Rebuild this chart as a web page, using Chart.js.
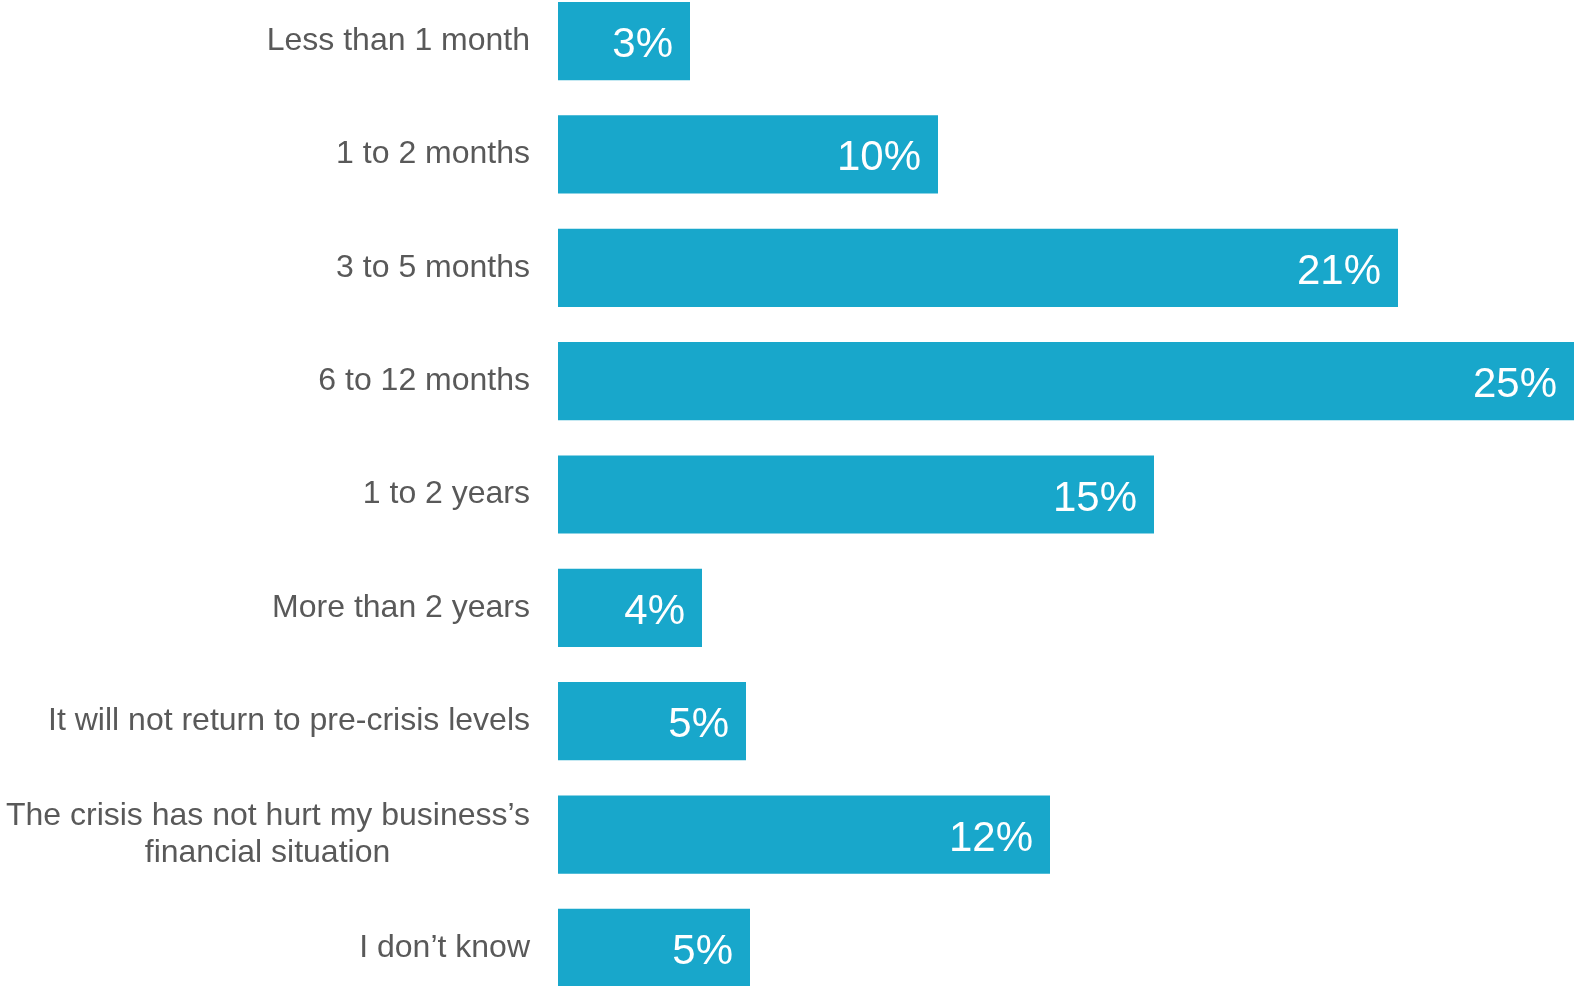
<!DOCTYPE html>
<html>
<head>
<meta charset="utf-8">
<script src="https://cdn.jsdelivr.net/npm/chart.js@4/dist/chart.umd.min.js"></script>
<style>
  html, body { margin: 0; padding: 0; background: #fff; overflow: hidden; }
  #wrap { position: absolute; left: 0; top: -62px; width: 1574px; height: 1113px; }
</style>
</head>
<body>
<div id="wrap"><canvas id="chart"></canvas></div>
<script>
// categories (the long one is split in two lines, second line padded so it sits centred)
const categories = [
  'Less than 1 month',
  '1 to 2 months',
  '3 to 5 months',
  '6 to 12 months',
  '1 to 2 years',
  'More than 2 years',
  'It will not return to pre-crisis levels',
  ['The crisis has not hurt my business\u2019s', 'financial situation' + ' '.repeat(15) + '\u2009'],
  'I don\u2019t know',
];
// bar lengths (%), and the printed labels
const values = [3.3, 9.5, 21.0, 25.4, 14.9, 3.6, 4.7, 12.3, 4.8];
const valueLabels = ['3%', '10%', '21%', '25%', '15%', '4%', '5%', '12%', '5%'];

const barColor = '#18A7CB';
const fontFamily = '"Liberation Sans", Arial, sans-serif';

// white value text inside the end of each bar
const valueLabelPlugin = {
  id: 'valueLabels',
  afterDatasetsDraw(chart) {
    const { ctx } = chart;
    const meta = chart.getDatasetMeta(0);
    ctx.save();
    ctx.fillStyle = '#ffffff';
    ctx.font = '42px ' + fontFamily;
    ctx.textAlign = 'right';
    ctx.textBaseline = 'alphabetic';
    meta.data.forEach((bar, i) => {
      ctx.fillText(valueLabels[i], bar.x - 17, bar.y + 16);
    });
    ctx.restore();
  },
};

new Chart(document.getElementById('chart').getContext('2d'), {
  type: 'bar',
  data: {
    labels: categories,
    datasets: [
      {
        data: values,
        backgroundColor: barColor,
        borderWidth: 0,
        categoryPercentage: 1,
        barPercentage: 0.69,
      },
    ],
  },
  options: {
    indexAxis: 'y',
    responsive: true,
    maintainAspectRatio: false,
    animation: false,
    layout: { padding: 0 },
    plugins: {
      legend: { display: false },
      tooltip: { enabled: false },
    },
    scales: {
      x: {
        display: false,
        min: 0,
        max: 25.4,
      },
      y: {
        border: { display: false },
        grid: { display: false, drawTicks: false },
        ticks: {
          color: '#595959',
          padding: 28,
          font: { family: fontFamily, size: 32, lineHeight: 1.15 },
        },
        afterFit(scale) {
          scale.width = 558; // 左側標籤區寬度
        },
      },
    },
  },
  plugins: [valueLabelPlugin],
});
</script>
</body>
</html>
